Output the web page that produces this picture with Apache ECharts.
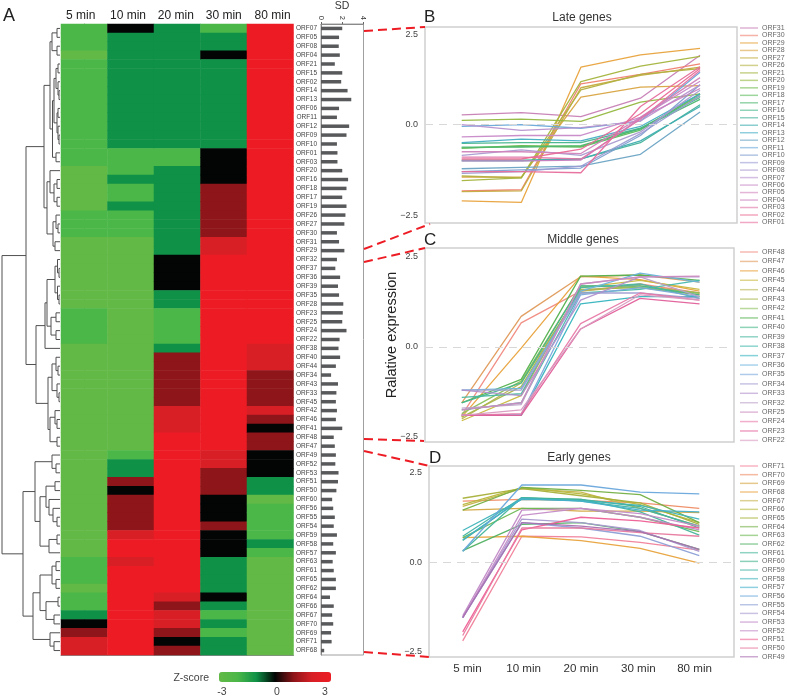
<!DOCTYPE html>
<html><head><meta charset="utf-8">
<style>html,body{margin:0;padding:0;background:#fff}#c{width:787px;height:699px}</style>
<script src="https://cdn.jsdelivr.net/npm/echarts@6/dist/echarts.min.js"></script>
</head><body><div id="c"></div>
<script>
const timeLabels = ['5 min','10 min','20 min','30 min','80 min'];
const rowLabels = ['ORF07','ORF05','ORF08','ORF04','ORF21','ORF15','ORF02','ORF14','ORF13','ORF06','ORF11','ORF12','ORF09','ORF10','ORF01','ORF03','ORF20','ORF16','ORF18','ORF17','ORF19','ORF26','ORF27','ORF30','ORF31','ORF29','ORF32','ORF37','ORF36','ORF39','ORF35','ORF28','ORF23','ORF25','ORF24','ORF22','ORF38','ORF40','ORF44','ORF34','ORF43','ORF33','ORF45','ORF42','ORF46','ORF41','ORF48','ORF47','ORF49','ORF52','ORF53','ORF51','ORF50','ORF60','ORF56','ORF55','ORF54','ORF59','ORF58','ORF57','ORF63','ORF61','ORF65','ORF62','ORF64','ORF66','ORF67','ORF70','ORF69','ORF71','ORF68'];
const zscore5 = [-2,-2,-2,-3,-2,-2,-2,-2,-2,-2,-2,-2,-2,-2,-2,-2,-3,-3,-3,-3,-3,-2,-2,-2,-3,-3,-3,-3,-3,-3,-3,-3,-2,-2,-2,-2,-3,-3,-3,-3,-3,-3,-3,-3,-3,-3,-3,-3,-3,-3,-3,-3,-3,-3,-3,-3,-3,-3,-3,-3,-2,-2,-2,-3,-2,-2,-1,0,1,2,2];
const zscore10 = [0,-1,-1,-1,-1,-1,-1,-1,-1,-1,-1,-1,-1,-1,-2,-2,-2,-1,-2,-2,-1,-2,-2,-2,-3,-3,-3,-3,-3,-3,-3,-3,-3,-3,-3,-3,-3,-3,-3,-3,-3,-3,-3,-3,-3,-3,-3,-3,-2,-1,-1,1,0,1,1,1,1,2,3,3,2,3,3,3,3,3,3,3,3,3,3];
const zscore20 = [-1,-1,-1,-1,-1,-1,-1,-1,-1,-1,-1,-1,-1,-1,-2,-2,-1,-1,-1,-1,-1,-1,-1,-1,-1,-1,0,0,0,0,-1,-1,-2,-2,-2,-2,-1,1,1,1,1,1,1,2,2,2,3,3,3,3,3,3,3,3,3,3,3,3,3,3,3,3,3,3,2,1,2,2,1,0,1];
const zscore30 = [-2,-1,-1,0,-1,-1,-1,-1,-1,-1,-1,-1,-1,-1,0,0,0,0,1,1,1,1,1,1,2,2,3,3,3,3,3,3,3,3,3,3,3,3,3,3,3,3,3,3,3,3,3,3,2,2,1,1,1,0,0,0,1,0,0,0,-1,-1,-1,-1,0,-1,-2,-1,-2,-1,-1];
const zscore80 = [3,3,3,3,3,3,3,3,3,3,3,3,3,3,3,3,3,3,3,3,3,3,3,3,3,3,3,3,3,3,3,3,3,3,3,3,2,2,2,1,1,1,1,2,1,0,1,1,0,0,0,-1,-1,-3,-2,-2,-2,-2,-1,-2,-3,-3,-3,-3,-3,-3,-3,-3,-3,-3,-3];
const zscoreColumns = [zscore5,zscore10,zscore20,zscore30,zscore80];
const zscoreColors = ['#62b946','#4bb748','#0f9147','#020504','#8e1519','#d91f26','#ed1c24'];
const sdValues = [2.0,1.7,1.67,1.77,1.3,2.0,1.9,2.5,2.85,1.7,1.5,2.65,2.4,1.5,1.55,1.55,2.0,2.55,2.4,2.0,2.4,2.3,2.2,1.5,1.7,2.2,1.5,1.35,1.8,1.6,1.7,2.1,2.05,2.0,2.4,1.75,1.65,1.8,1.4,0.95,1.6,1.45,1.4,1.5,1.4,2.0,1.2,1.3,1.4,1.35,1.65,1.6,1.45,1.05,1.15,1.3,1.2,1.5,1.15,1.4,1.1,1.2,1.4,1.4,0.85,1.2,1.05,1.15,0.95,1.0,0.3];
// merge height, left child, right child (a number is a row index)
const dendrogram = [2,
 [26,
  [44,
   [50,[52,[57,0,1],[57,2,3]],[52.5,[54,[56,[58,4,5],[58,6,[59,7,8]]],[57,[58,9,10],[58,11,[59,12,13]]]],[56,14,15]]],
   [47,[50,16,[54,[57,17,18],[57,19,20]]],[53,[56,21,[58,22,23]],[55,24,25]]]],
  [36,
   [45,[47,[55,[57.5,26,[59,27,28]],[57.5,29,[59,30,31]]],[51,[56,32,33],[56,34,35]]],36],
   [48,[52,[56,37,[58,38,39]],[57,40,[59,41,42]]],[50,[55,43,[57,44,45]],[57,46,47]]]]],
 [23,
  [35,[52,48,[56,49,50]],
   [40,[46,[55,51,52],[49,53,[53,54,[57,55,56]]]],[49,[57,57,58],59]]],
  [33,
   [40,[52,[56,60,61],[56,62,63]],[46,[58,64,65],[54,66,67]]],
   [50,68,[54,69,70]]]]];

const lateNames = ['ORF31','ORF30','ORF29','ORF28','ORF27','ORF26','ORF21','ORF20','ORF19','ORF18','ORF17','ORF16','ORF15','ORF14','ORF13','ORF12','ORF11','ORF10','ORF09','ORF08','ORF07','ORF06','ORF05','ORF04','ORF03','ORF02','ORF01'];
const lateValues = [
 [.27,.33,.22,.73,1.92],[-1.83,-1.8,1.13,1.39,1.68],[-2.11,-2.15,1.59,1.93,2.11],[-1.45,-1.45,.76,1.04,1.08],[-1.85,-1.83,1.02,1.36,1.59],[-1.42,-1.47,.96,1.39,1.55],[-1.55,-1.47,1.19,1.62,1.89],
 [.12,.15,.09,.62,.85],[-.65,-.58,-.6,-.1,.8],[-.65,-.6,-.62,-.15,.85],[-.62,-.62,-.58,-.12,.7],[-.52,-.5,-.5,-.1,.75],[-.98,-.98,-.95,-.5,.55],[-1.0,-1.0,-.95,-.45,.5],
 [-.5,-.4,-.45,-.05,.85],[-1.22,-1.18,-1.15,-.82,.35],[-.05,0,-.1,.1,1.45],[-1.3,-1.25,-1.2,-.3,1.1],[-1.35,-1.3,-1.15,-.25,.8],[-.85,-.7,-.85,-.2,.95],
 [0,-.16,-.08,.1,1.1],[-.34,-.3,-.3,.2,1.2],[-.75,-.75,-.8,.2,1.3],[-1.0,-1.0,-.98,.18,1.0],[-.9,-.9,-.95,.15,1.5],[-.95,-.95,-.68,.3,1.55],[-1.3,-1.3,-1.33,.5,1.6]];
const lateColors = ['#c77fb5','#ef7f6f','#e8a23c','#d9a441','#c4ac3f','#b3b040','#a4b43d','#93b73e','#6fbb4f','#5cbb5c','#4db872','#45b58a','#42b29a','#40aeb0','#45aec4','#6ba4c4','#6aa8d8','#7f9fd0','#9a9bd3','#a99ad0','#b792cf','#c88ac8','#d083bb','#c97fc0','#e073a5','#ea6a95','#e76e9c'];

const middleNames = ['ORF48','ORF47','ORF46','ORF45','ORF44','ORF43','ORF42','ORF41','ORF40','ORF39','ORF38','ORF37','ORF36','ORF35','ORF34','ORF33','ORF32','ORF25','ORF24','ORF23','ORF22'];
const middleValues = [
 [-1.9,.67,1.55,1.75,1.5],[-1.55,.85,1.95,2.0,1.8],[-1.95,-.03,1.97,1.87,1.55],[-2.05,-1.35,1.65,1.85,1.6],[-2.0,-1.0,1.55,1.7,1.5],[-1.95,-1.1,1.6,1.65,1.45],[-1.85,-.95,1.7,1.65,1.5],
 [-1.55,-.9,1.97,2.0,1.85],[-1.55,-1.0,1.7,1.7,1.45],[-1.4,-1.3,1.65,1.75,1.35],[-1.75,-1.55,1.5,1.6,1.85],[-1.9,-1.9,1.2,1.4,1.4],[-1.2,-1.15,1.55,2.05,1.8],[-1.9,-1.88,1.45,1.65,1.4],
 [-1.2,-1.2,1.5,1.5,1.35],[-1.2,-1.35,1.3,1.95,1.95],[-1.7,-1.6,1.75,1.95,1.4],[-1.75,-1.55,1.75,1.95,1.97],[-1.9,-1.85,.65,1.5,1.3],[-1.9,-1.9,.5,1.35,1.2],[-1.9,-1.75,.5,1.45,1.3]];
const middleColors = ['#f08a80','#e09a5a','#e8a23c','#c9b83f','#b9b450','#a8b44a','#8cc05a','#55b24f','#45b58a','#48b7a0','#45b8ad','#35b4be','#6db4dc','#7aa8dc','#a09dd0','#b090cc','#bba0c8','#cc8abf','#e87aa8','#e2609a','#d89ac0'];

const earlyNames = ['ORF71','ORF70','ORF69','ORF68','ORF67','ORF66','ORF65','ORF64','ORF63','ORF62','ORF61','ORF60','ORF59','ORF58','ORF57','ORF56','ORF55','ORF54','ORF53','ORF52','ORF51','ORF50','ORF49'];
const earlyValues = [
 [-2.2,.72,.7,.55,.33],[1.7,1.75,1.72,1.65,1.5],[1.45,1.5,1.42,1.42,1.38],[.68,.72,.6,.38,-.03],[1.55,2.05,1.95,1.5,1.0],[1.6,2.08,1.9,1.6,1.1],[1.78,2.05,1.85,1.65,1.05],[1.45,2.08,2.0,1.88,1.1],
 [.68,1.5,1.5,1.25,.85],[.32,1.05,1.1,.85,.35],[.3,1.8,1.75,1.4,.75],[.6,1.78,1.75,1.55,.95],[.72,1.8,1.7,1.5,1.0],[.88,1.75,1.72,1.58,1.2],[.62,1.77,1.7,1.45,1.4],[.3,2.15,2.15,1.95,1.9],
 [-1.55,1.1,.95,.72,.18],[-1.55,1.2,1.1,.88,.3],[-1.5,1.45,1.5,1.25,.9],[-1.55,1.3,1.5,1.35,1.0],[-1.95,.9,1.25,1.15,.95],[-2.05,.95,.95,.82,.72],[-1.55,1.1,1.0,.85,.35]];
const earlyColors = ['#f07f9a','#ef8c64','#d4a53f','#e8a23c','#c4b24a','#b7b83a','#a8b03a','#74b044','#6ab852','#50b060','#45b59a','#40b090','#42b4a5','#3fb4bb','#45b0cb','#6aa8dc','#8c9fd6','#a89ad0','#c089c6','#c48cc8','#ee5f95','#e87aa0','#a870b0'];

const yTicks = [-2.5,0,2.5];
const font = '"Liberation Sans", Arial, sans-serif';

const heatData = [];
zscoreColumns.forEach((col,c)=>col.forEach((v,r)=>heatData.push([c,r,v])));

const dendroSegments = [];
(function walk(n){
  if (typeof n === 'number') return {x:60,y:n};
  const a = walk(n[1]), b = walk(n[2]);
  dendroSegments.push([n[0],a.x,a.y,b.x,b.y]);
  return {x:n[0],y:(a.y+b.y)/2};
})(dendrogram);

const panels = [
 {names:lateNames, values:lateValues, colors:lateColors, title:'Late genes', cx:577, ty:7, left:425, right:50, top:27, height:196, ymin:-2.72, ymax:2.7, xmin:-.616, xmax:4.62, lTop:24.5, gap:.48},
 {names:middleNames, values:middleValues, colors:middleColors, title:'Middle genes', cx:578, ty:229, left:425, right:53, top:248, height:194, ymin:-2.64, ymax:2.75, xmin:-.618, xmax:4.58, lTop:248.5, gap:2.42},
 {names:earlyNames, values:earlyValues, colors:earlyColors, title:'Early genes', cx:574, ty:447, left:429, right:53, top:466, height:191, ymin:-2.65, ymax:2.68, xmin:-.57, xmax:4.587, lTop:462.5, gap:1.67}
];

const grids = [
 {left:61,width:232.5,top:24,height:631,outerBoundsMode:'none'},
 {left:321,width:42.5,top:24,height:631,show:true,borderColor:'#a0a0a0',borderWidth:1,outerBoundsMode:'none'},
 {left:0,width:60,top:24,height:631,outerBoundsMode:'none'}
];
const xAxes = [
 {type:'category',gridIndex:0,position:'top',data:timeLabels,axisLine:{show:false},axisTick:{show:false},axisLabel:{show:false}},
 {type:'category',gridIndex:0,position:'bottom',data:timeLabels,axisLine:{show:true,lineStyle:{color:'#8a8a8a',width:1}},axisTick:{show:false},axisLabel:{show:false}},
 {type:'value',gridIndex:1,position:'top',min:0,max:4,interval:2,splitLine:{show:false},axisLine:{show:true,lineStyle:{color:'#8a8a8a'}},axisTick:{show:true,length:2,lineStyle:{color:'#666'}},axisLabel:{rotate:90,fontSize:7.5,color:'#333',margin:4,fontFamily:font}},
 {type:'value',gridIndex:2,min:0,max:60,show:false},
 {type:'value',gridIndex:0,position:'top',min:-.5,max:4.5,splitLine:{show:false},axisLine:{show:false},axisTick:{show:false},
  axisLabel:{customValues:[-.076,.94,1.97,3,4.05],formatter:v=>timeLabels[Math.round(v)],fontSize:12,color:'#222',margin:2,fontFamily:font,showMinLabel:true,showMaxLabel:true}}
];
const yAxes = [
 {type:'category',gridIndex:0,inverse:true,data:rowLabels,axisLine:{show:true,lineStyle:{color:'#8a8a8a'}},axisTick:{show:false},axisLabel:{show:false}},
 {type:'category',gridIndex:1,inverse:true,data:rowLabels,axisLine:{show:true,lineStyle:{color:'#8a8a8a'}},axisTick:{show:false},axisLabel:{fontSize:6.5,color:'#444',margin:4,interval:0,padding:[2,0,0,0],fontFamily:font}},
 {type:'value',gridIndex:2,inverse:true,min:-.5,max:70.5,show:false}
];
const series = [
 {type:'heatmap',xAxisIndex:0,yAxisIndex:0,data:heatData,itemStyle:{borderWidth:0},emphasis:{disabled:true},progressive:0},
 {type:'bar',xAxisIndex:2,yAxisIndex:1,data:sdValues,barWidth:3.5,itemStyle:{color:'#58595b'},silent:true},
 {type:'custom',xAxisIndex:3,yAxisIndex:2,data:dendroSegments,silent:true,clip:false,
  encode:{x:0},
  renderItem:(params,api)=>{
   const px=api.value(0),ax=api.value(1),ay=api.value(2),bx=api.value(3),by=api.value(4);
   return {type:'polyline',shape:{points:[api.coord([ax,ay]),api.coord([px,ay]),api.coord([px,by]),api.coord([bx,by])]},style:{stroke:'#505050',lineWidth:1,fill:null}};
  }}
];
const titles = [], legends = [];
panels.forEach((p,i)=>{
 const gi = grids.length, xi = xAxes.length, yi = yAxes.length;
 grids.push({left:p.left,right:p.right,top:p.top,height:p.height,show:true,borderColor:'#cfcfcf',borderWidth:1.5,outerBoundsMode:'none'});
 xAxes.push({type:'value',gridIndex:gi,min:p.xmin,max:p.xmax,splitLine:{show:false},axisLine:{show:false},axisTick:{show:false},
  axisLabel: i===2 ? {customValues:[.08,1.03,2,2.97,3.92],formatter:v=>timeLabels[Math.round(v)],fontSize:11.6,color:'#333',margin:6,fontFamily:font,showMinLabel:true,showMaxLabel:true} : {show:false}});
 yAxes.push({type:'value',gridIndex:gi,min:p.ymin,max:p.ymax,splitLine:{show:false},axisLine:{show:false},axisTick:{show:false},
  axisLabel:{customValues:yTicks,formatter:v=>v.toFixed(1).replace('-','\u2212'),fontSize:9,color:'#444',margin:7,fontFamily:font}});
 p.names.forEach((n,k)=>{
  const s = {type:'line',name:n,xAxisIndex:xi,yAxisIndex:yi,data:p.values[k].map((v,t)=>[t,v]),showSymbol:false,symbol:'none',silent:true,
   lineStyle:{color:p.colors[k],width:1.3,opacity:.95},itemStyle:{color:p.colors[k]}};
  if(k===0) s.markLine={silent:true,symbol:'none',label:{show:false},data:[{yAxis:0}],lineStyle:{color:'#d8d8d8',type:[8,6],width:1}};
  series.push(s);
 });
 titles.push({text:p.title,left:p.cx,top:p.ty,textAlign:'center',textStyle:{fontSize:12,fontWeight:'normal',color:'#333',fontFamily:font}});
 legends.push({data:p.names,orient:'vertical',left:740,top:p.lTop,icon:'rect',itemWidth:18,itemHeight:1.5,itemGap:p.gap,selectedMode:false,padding:0,
  itemStyle:{opacity:.6},textStyle:{fontSize:7,lineHeight:7,color:'#666',padding:[0,0,0,-1],fontFamily:font}});
});

const connectors = [[364,31,425,27],[364,249,430,224],[364,262,425,248],[364,439,424,441],[364,451,430,466],[364,652,430,657]];
const texts = [
 {t:'A',x:3,y:16,s:18},{t:'B',x:424,y:17,s:17},{t:'C',x:424,y:240,s:17},{t:'D',x:429,y:458,s:17},
 {t:'SD',x:342,y:6,s:10.5,a:'center',c:'#333'},
 {t:'Z-score',x:209,y:678,s:10.5,a:'right',c:'#444'},{t:'-3',x:222,y:692,s:10.5,a:'center',c:'#444'},{t:'0',x:277,y:692,s:10.5,a:'center',c:'#444'},{t:'3',x:325,y:692,s:10.5,a:'center',c:'#444'}
];
const graphic = connectors.map(c=>({type:'line',silent:true,z:50,shape:{x1:c[0],y1:c[1],x2:c[2],y2:c[3]},style:{stroke:'#ed1c24',lineWidth:2,lineDash:[9,5]}}))
 .concat(texts.map(t=>({type:'text',silent:true,x:t.x,y:t.y,style:{text:t.t,fontSize:t.s,fill:t.c||'#222',fontFamily:font,textAlign:t.a||'left',textVerticalAlign:'middle'}})))
 .concat([{type:'text',silent:true,x:392,y:335,rotation:Math.PI/2,style:{text:'Ralative expression',fontSize:14.5,fill:'#222',fontFamily:font,textAlign:'center',textVerticalAlign:'middle'}}]);

const chart = echarts.init(document.getElementById('c'),null,{renderer:'canvas'});
chart.setOption({
 animation:false,backgroundColor:'#fff',title:titles,legend:legends,tooltip:{show:false},
 grid:grids,xAxis:xAxes,yAxis:yAxes,series:series,graphic:graphic,
 visualMap:{type:'continuous',seriesIndex:0,dimension:2,min:-3,max:3,orient:'horizontal',left:219,top:672,itemWidth:10,itemHeight:112,calculable:false,hoverLink:false,text:['',''],showLabel:false,padding:0,inRange:{color:zscoreColors}}
});
</script></body></html>
